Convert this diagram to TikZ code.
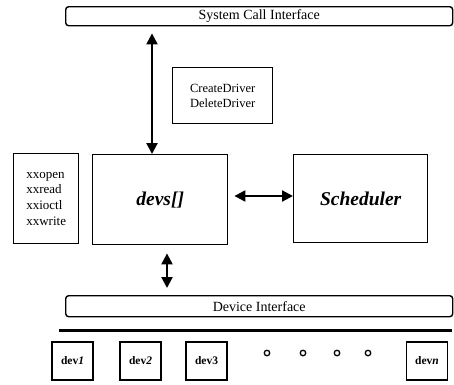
\documentclass[tikz,border=0pt]{standalone}
\usepackage{fontspec}
\setmainfont{Liberation Serif}
\usetikzlibrary{arrows.meta,calc}
\begin{document}
\begin{tikzpicture}[x=1pt,y=-1pt,
  box/.style={draw,line width=1.4pt},
  rbox/.style={draw,line width=1.4pt,rounded corners=3pt},
  arr/.style={line width=2.2pt,{Triangle[length=11pt,width=11pt]}-{Triangle[length=11pt,width=11pt]}},
  devbox/.style={draw,line width=1.3pt,minimum width=41pt,minimum height=38pt,inner sep=0pt,font=\fontsize{11.5}{13}\selectfont\bfseries},
  dot/.style={draw,circle,line width=1.3pt,minimum size=5.5pt,inner sep=0pt}]
\useasboundingbox (0,0) rectangle (454,384);
% top interface
\node[rbox,minimum width=387pt,minimum height=19pt,inner sep=0pt,font=\fontsize{14}{16}\selectfont,anchor=north west] (sci) at (65,6) {System Call Interface};
% device interface
\node[rbox,minimum width=387pt,minimum height=21pt,inner sep=0pt,font=\fontsize{14}{16}\selectfont,anchor=north west] (di) at (65,295) {Device Interface};
% create/delete
\node[box,minimum width=100pt,minimum height=56pt,inner sep=0pt,anchor=north west,align=left,font=\fontsize{12.5}{15}\selectfont] (cd) at (172,67) {CreateDriver\\DeleteDriver};
% xx ops
\node[box,minimum width=65pt,minimum height=90pt,inner sep=0pt,anchor=north west,align=left,font=\fontsize{13}{15.7}\selectfont] (xx) at (13,153) {xxopen\\xxread\\xxioctl\\xxwrite};
% devs
\node[box,minimum width=135pt,minimum height=90pt,inner sep=0pt,anchor=north west,font=\fontsize{19.5}{22}\selectfont\bfseries\itshape] (devs) at (92,154) {devs[]};
% scheduler
\node[box,minimum width=134pt,minimum height=88pt,inner sep=0pt,anchor=north west,font=\fontsize{19.5}{22}\selectfont\bfseries\itshape] (sched) at (293,154) {Scheduler};
% arrows
\coordinate (a1) at (152,0);
\coordinate (a2) at (167,0);
\coordinate (a3) at (0,196);
\draw[arr,shorten <=7pt] (sci.south -| a1) -- (devs.north -| a1);
\draw[arr,shorten <=6pt] (devs.east |- a3) -- (sched.west |- a3);
\draw[arr,shorten <=8pt,shorten >=7pt] (devs.south -| a2) -- (di.north -| a2);
% thick bus line
\coordinate (b1) at (59,330);
\coordinate (b2) at (452,330);
\draw[line width=3pt] (b1) -- (b2);
% devices
\node[devbox] (d1) at (72.5,361) {dev\textit{1}};
\node[devbox] (d2) at (140.5,361) {dev\textit{2}};
\node[devbox] (d3) at (206.5,361) {dev3};
\node[devbox] (dn) at (427,361) {dev\textit{n}};
\node[dot] (o1) at (267,353) {};
\node[dot] (o2) at (303,353) {};
\node[dot] (o3) at (337,353) {};
\node[dot] (o4) at (368,353) {};
\end{tikzpicture}
\end{document}
